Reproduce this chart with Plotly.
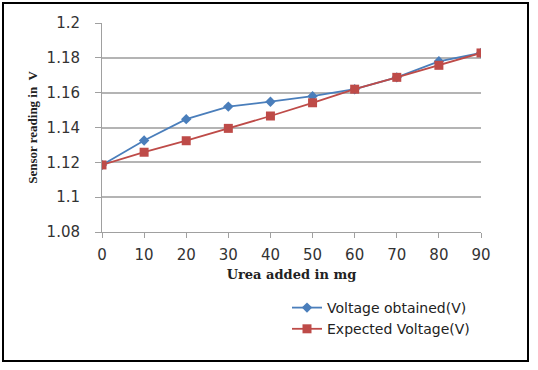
import plotly.graph_objects as go

x_vals = [0, 10, 20, 30, 40, 50, 60, 70, 80, 90]
obtained = [1.1185, 1.1325, 1.1448, 1.152, 1.1548, 1.158, 1.162, 1.1688, 1.178, 1.1828]
expected = [1.1185, 1.1258, 1.1324, 1.1395, 1.1466, 1.1542, 1.162, 1.1688, 1.1757, 1.1828]
y_ticks = [1.08, 1.1, 1.12, 1.14, 1.16, 1.18, 1.2]
y_labels = ["1.08", "1.1", "1.12", "1.14", "1.16", "1.18", "1.2"]

fig = go.Figure()
fig.add_trace(go.Scatter(x=x_vals, y=obtained, mode="lines+markers", name="Voltage obtained(V)",
                         line=dict(color="#4a7ebb", width=1.8),
                         marker=dict(symbol="diamond", size=8, color="#4a7ebb")))
fig.add_trace(go.Scatter(x=x_vals, y=expected, mode="lines+markers", name="Expected Voltage(V)",
                         line=dict(color="#be4b48", width=1.8),
                         marker=dict(symbol="square", size=9, color="#be4b48")))

L, R, T, B = 102, 481, 23, 232
W, H = 538, 370
pw, ph = R - L, B - T

fig.update_layout(
    width=W, height=H,
    margin=dict(l=L, r=W - R, t=T, b=H - B),
    paper_bgcolor="white", plot_bgcolor="white",
    font=dict(family="DejaVu Sans", size=13, color="#333333"),
    showlegend=True,
    legend=dict(x=(287 - L) / pw, y=(B - 292) / ph, xanchor="left", yanchor="top",
                bgcolor="rgba(0,0,0,0)", font=dict(family="DejaVu Sans", size=14, color="#222222"),
                tracegroupgap=0, itemwidth=30),
    xaxis=dict(range=[0, 90], tickvals=x_vals, showgrid=False, showline=True, linecolor="#a0a0a0",
               linewidth=1, ticks="outside", ticklen=5, tickcolor="#a0a0a0", zeroline=False,
               ticklabelstandoff=4,
               tickfont=dict(family="DejaVu Sans", size=15, color="#333333"),
               title=dict(text="<b>Urea added in mg</b>", font=dict(family="DejaVu Serif", size=13, color="#222222"), standoff=6)),
    yaxis=dict(range=[1.08, 1.2], tickvals=y_ticks, ticktext=y_labels,
               showgrid=True, gridcolor="#b4b4b4", gridwidth=1.5, showline=True, linecolor="#a0a0a0",
               ticks="outside", ticklen=6, tickcolor="#a0a0a0", zeroline=False,
               ticklabelstandoff=12,
               tickfont=dict(family="DejaVu Sans", size=15, color="#333333"),
               title=dict(text="<b>Sensor reading in  V</b>", font=dict(family="Liberation Serif", size=13, color="#222222"), standoff=6)),
    shapes=[dict(type="rect", xref="paper", yref="paper",
                 x0=(3 - L) / pw, x1=(528 - L) / pw, y0=(B - 361) / ph, y1=(B - 3) / ph,
                 line=dict(color="black", width=2))],
)

fig.write_html("out.html")
